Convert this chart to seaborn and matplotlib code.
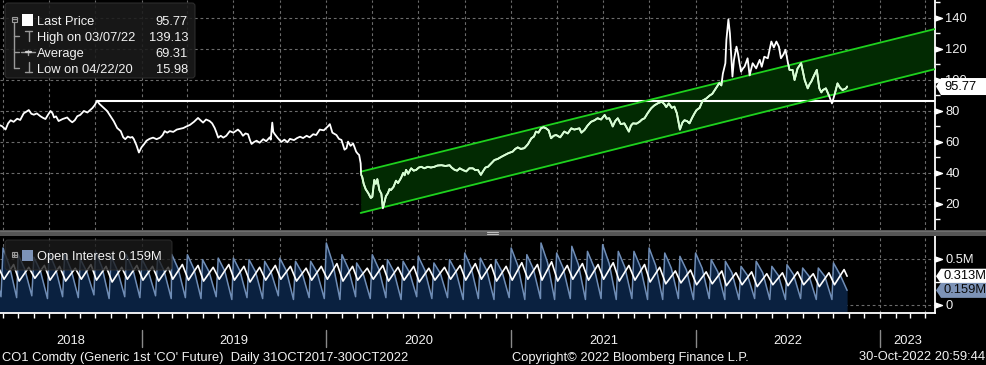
import numpy as np
import pandas as pd
import matplotlib
matplotlib.use("Agg")
import matplotlib.pyplot as plt
import matplotlib.dates as mdates
import seaborn as sns
from matplotlib.patches import Polygon, Rectangle, FancyBboxPatch
from matplotlib.lines import Line2D
from matplotlib.path import Path
from matplotlib.transforms import Affine2D, blended_transform_factory as blend

# ---------------- data ----------------
price_2018 = [
    ('2018-03-24', 71.0), ('2018-03-30', 70.2), ('2018-04-06', 68.0), ('2018-04-11', 72.0),
    ('2018-04-16', 74.0), ('2018-04-22', 73.0), ('2018-04-29', 75.0), ('2018-05-05', 74.2),
    ('2018-05-12', 78.5), ('2018-05-17', 79.5), ('2018-05-22', 80.6), ('2018-05-27', 78.2),
    ('2018-06-01', 77.6), ('2018-06-07', 78.4), ('2018-06-14', 76.6), ('2018-06-19', 75.6),
    ('2018-06-24', 74.8), ('2018-06-29', 77.5), ('2018-07-04', 80.0), ('2018-07-08', 78.5),
    ('2018-07-11', 75.8), ('2018-07-15', 76.5), ('2018-07-20', 73.5), ('2018-07-28', 74.8),
    ('2018-08-06', 75.8), ('2018-08-11', 74.0), ('2018-08-16', 72.7), ('2018-08-21', 74.0),
    ('2018-08-26', 76.6), ('2018-09-01', 77.5), ('2018-09-08', 80.0), ('2018-09-15', 79.0),
    ('2018-09-25', 81.9), ('2018-09-30', 84.0), ('2018-10-04', 86.6), ('2018-10-09', 84.5),
    ('2018-10-14', 83.0), ('2018-10-19', 81.5), ('2018-10-24', 80.0), ('2018-10-30', 77.0),
    ('2018-11-06', 73.5), ('2018-11-13', 69.0), ('2018-11-20', 67.0), ('2018-11-25', 63.0),
    ('2018-11-29', 61.8), ('2018-12-04', 63.5), ('2018-12-09', 62.8), ('2018-12-13', 63.2),
    ('2018-12-16', 61.8), ('2018-12-21', 58.0), ('2018-12-26', 53.2), ('2018-12-31', 56.5),
]
price_2019 = [
    ('2019-01-05', 58.5), ('2019-01-10', 60.8), ('2019-01-16', 62.0), ('2019-01-23', 62.8),
    ('2019-01-30', 61.8), ('2019-02-06', 62.8), ('2019-02-11', 64.5), ('2019-02-15', 67.0),
    ('2019-02-20', 66.0), ('2019-02-25', 67.0), ('2019-03-04', 66.5), ('2019-03-11', 68.0),
    ('2019-03-18', 68.5), ('2019-03-24', 69.0), ('2019-03-30', 70.0), ('2019-04-06', 71.0),
    ('2019-04-14', 73.0), ('2019-04-22', 75.5), ('2019-04-27', 74.0), ('2019-05-02', 72.5),
    ('2019-05-08', 74.5), ('2019-05-15', 73.5), ('2019-05-20', 72.0), ('2019-05-25', 69.0),
    ('2019-05-28', 66.5), ('2019-06-01', 62.8), ('2019-06-06', 64.0), ('2019-06-11', 62.8),
    ('2019-06-17', 64.0), ('2019-06-24', 67.0), ('2019-07-01', 66.0), ('2019-07-10', 68.0),
    ('2019-07-15', 66.5), ('2019-07-20', 64.0), ('2019-07-25', 65.5), ('2019-07-30', 65.0),
    ('2019-08-03', 61.0), ('2019-08-06', 58.7), ('2019-08-11', 60.0), ('2019-08-16', 60.8),
    ('2019-08-22', 59.5), ('2019-08-29', 61.8), ('2019-09-04', 60.5), ('2019-09-11', 63.0),
    ('2019-09-13', 61.5), ('2019-09-16', 72.5), ('2019-09-18', 66.5), ('2019-09-21', 65.0),
    ('2019-09-27', 62.5), ('2019-10-04', 60.0), ('2019-10-10', 61.5), ('2019-10-16', 59.8),
    ('2019-10-21', 62.0), ('2019-10-29', 61.2), ('2019-11-04', 62.5), ('2019-11-10', 63.4),
    ('2019-11-16', 62.5), ('2019-11-23', 64.0), ('2019-11-29', 63.0), ('2019-12-06', 65.0),
    ('2019-12-12', 64.5), ('2019-12-19', 68.0), ('2019-12-27', 67.5),
]
price_2020 = [
    ('2020-01-04', 70.0), ('2020-01-08', 71.5), ('2020-01-13', 66.0), ('2020-01-21', 64.5),
    ('2020-01-26', 62.0), ('2020-01-31', 61.3), ('2020-02-06', 55.0), ('2020-02-10', 56.0),
    ('2020-02-13', 60.2), ('2020-02-18', 57.5), ('2020-02-23', 59.0), ('2020-02-26', 56.5),
    ('2020-02-29', 53.8), ('2020-03-03', 52.5), ('2020-03-06', 51.6), ('2020-03-09', 46.2),
    ('2020-03-10', 38.7), ('2020-03-12', 37.5), ('2020-03-15', 33.0), ('2020-03-19', 29.5),
    ('2020-03-24', 27.0), ('2020-03-29', 23.9), ('2020-04-01', 24.5), ('2020-04-05', 35.5),
    ('2020-04-08', 33.0), ('2020-04-11', 36.0), ('2020-04-15', 29.0), ('2020-04-19', 26.5),
    ('2020-04-22', 17.2), ('2020-04-25', 21.0), ('2020-04-28', 25.0), ('2020-05-02', 27.0),
    ('2020-05-05', 29.6), ('2020-05-08', 29.0), ('2020-05-13', 31.0), ('2020-05-18', 35.0),
    ('2020-05-22', 33.5), ('2020-05-28', 36.8), ('2020-06-01', 40.0), ('2020-06-04', 38.5),
    ('2020-06-07', 42.0), ('2020-06-11', 39.5), ('2020-06-17', 43.0), ('2020-06-22', 41.5),
    ('2020-06-27', 42.0), ('2020-07-02', 43.5), ('2020-07-07', 44.0), ('2020-07-13', 43.0),
    ('2020-07-20', 44.0), ('2020-07-26', 43.5), ('2020-08-02', 44.0), ('2020-08-08', 44.8),
    ('2020-08-16', 45.0), ('2020-08-24', 44.5), ('2020-09-01', 45.0), ('2020-09-05', 43.5),
    ('2020-09-11', 42.0), ('2020-09-16', 41.5), ('2020-09-21', 43.0), ('2020-09-28', 41.8),
    ('2020-10-04', 41.0), ('2020-10-10', 43.0), ('2020-10-17', 43.0), ('2020-10-22', 41.8),
    ('2020-10-27', 42.0), ('2020-11-02', 38.8), ('2020-11-06', 41.0), ('2020-11-11', 43.5),
    ('2020-11-16', 44.0), ('2020-11-22', 46.0), ('2020-11-29', 48.4), ('2020-12-05', 49.0),
    ('2020-12-13', 50.5), ('2020-12-19', 51.5), ('2020-12-26', 52.7),
]
price_2021 = [
    ('2021-01-04', 53.8), ('2021-01-09', 55.5), ('2021-01-14', 56.5), ('2021-01-20', 55.5),
    ('2021-01-27', 56.0), ('2021-02-03', 58.5), ('2021-02-10', 62.4), ('2021-02-15', 63.5),
    ('2021-02-19', 66.7), ('2021-02-24', 66.0), ('2021-03-01', 68.8), ('2021-03-06', 69.5),
    ('2021-03-11', 68.8), ('2021-03-16', 67.5), ('2021-03-21', 62.4), ('2021-03-26', 64.0),
    ('2021-03-31', 64.5), ('2021-04-08', 63.0), ('2021-04-16', 66.7), ('2021-04-23', 65.5),
    ('2021-04-30', 68.8), ('2021-05-06', 68.0), ('2021-05-16', 68.8), ('2021-05-20', 66.0),
    ('2021-05-26', 67.7), ('2021-06-01', 70.5), ('2021-06-08', 73.0), ('2021-06-15', 74.0),
    ('2021-06-21', 75.3), ('2021-06-28', 74.5), ('2021-07-05', 77.4), ('2021-07-09', 75.0),
    ('2021-07-14', 75.3), ('2021-07-18', 72.5), ('2021-07-21', 70.0), ('2021-07-26', 73.5),
    ('2021-07-31', 75.3), ('2021-08-06', 71.5), ('2021-08-13', 72.0), ('2021-08-18', 69.0),
    ('2021-08-22', 66.7), ('2021-08-26', 70.5), ('2021-08-30', 72.0), ('2021-09-06', 71.8),
    ('2021-09-12', 73.0), ('2021-09-17', 74.5), ('2021-09-22', 75.3), ('2021-09-28', 78.5),
    ('2021-10-05', 81.7), ('2021-10-11', 83.5), ('2021-10-18', 84.9), ('2021-10-26', 86.0),
    ('2021-10-31', 84.5), ('2021-11-04', 82.5), ('2021-11-09', 84.9), ('2021-11-15', 82.0),
    ('2021-11-20', 82.8), ('2021-11-25', 78.5), ('2021-12-01', 68.0), ('2021-12-06', 72.5),
    ('2021-12-10', 74.0), ('2021-12-15', 73.5), ('2021-12-20', 72.0), ('2021-12-25', 75.5),
    ('2021-12-30', 78.5),
]
price_2022 = [
    ('2022-01-03', 80.6), ('2022-01-09', 82.0), ('2022-01-15', 86.7), ('2022-01-22', 88.0),
    ('2022-01-29', 90.0), ('2022-02-03', 91.0), ('2022-02-08', 93.5), ('2022-02-12', 95.5),
    ('2022-02-17', 98.0), ('2022-02-21', 96.5), ('2022-02-24', 104.0), ('2022-03-01', 110.8),
    ('2022-03-03', 125.8), ('2022-03-07', 139.13), ('2022-03-10', 130.0), ('2022-03-15', 102.2),
    ('2022-03-18', 113.0), ('2022-03-23', 121.5), ('2022-03-26', 117.0), ('2022-03-29', 110.8),
    ('2022-04-01', 105.4), ('2022-04-05', 107.5), ('2022-04-08', 108.6), ('2022-04-14', 114.0),
    ('2022-04-18', 103.0), ('2022-04-21', 107.0), ('2022-04-24', 110.8), ('2022-05-01', 107.5),
    ('2022-05-04', 110.0), ('2022-05-08', 113.0), ('2022-05-12', 108.5), ('2022-05-17', 115.0),
    ('2022-05-24', 114.0), ('2022-05-31', 124.8), ('2022-06-05', 121.0), ('2022-06-10', 124.8),
    ('2022-06-15', 121.5), ('2022-06-19', 114.0), ('2022-06-24', 116.5), ('2022-06-28', 119.5),
    ('2022-07-03', 110.8), ('2022-07-06', 106.5), ('2022-07-12', 106.5), ('2022-07-16', 100.0),
    ('2022-07-22', 107.5), ('2022-07-29', 110.8), ('2022-08-05', 100.0), ('2022-08-11', 94.6),
    ('2022-08-15', 97.5), ('2022-08-18', 98.9), ('2022-08-24', 103.2), ('2022-08-29', 106.5),
    ('2022-09-03', 94.6), ('2022-09-07', 92.0), ('2022-09-10', 93.5), ('2022-09-16', 94.6),
    ('2022-09-23', 89.2), ('2022-09-28', 84.9), ('2022-10-03', 90.3), ('2022-10-09', 97.8),
    ('2022-10-14', 95.0), ('2022-10-19', 93.5), ('2022-10-26', 94.6), ('2022-10-28', 95.77),
]

last_price = 95.77
high_date, high_price = '03/07/22', 139.13
avg_price = 69.31
low_date, low_price = '04/22/20', 15.98

channel_dates = ['2020-03-09', '2023-04-20']
channel_upper = [40.8, 132.9]
channel_lower = [14.2, 107.0]

oi_months = pd.date_range('2018-03-01', '2022-10-01', freq='MS')
oi_peak = [0.55, 0.62, 0.55, 0.52, 0.57, 0.55, 0.50, 0.58, 0.53, 0.55, 0.50, 0.52, 0.55,
           0.547, 0.493, 0.51, 0.51, 0.493, 0.475, 0.51, 0.475, 0.475,
           0.674, 0.547, 0.457, 0.547, 0.493, 0.475, 0.529, 0.457, 0.493,
           0.565, 0.51, 0.493, 0.62, 0.547, 0.674, 0.565, 0.638, 0.583,
           0.656, 0.583, 0.583, 0.62, 0.565, 0.529, 0.565, 0.493, 0.475,
           0.42, 0.475, 0.42, 0.438, 0.402, 0.402, 0.457]
oi_mid = [0.40, 0.42, 0.39, 0.37, 0.40, 0.38, 0.36, 0.41, 0.37, 0.39, 0.36, 0.37, 0.39,
          0.39, 0.36, 0.37, 0.37, 0.36, 0.35, 0.37, 0.35, 0.35,
          0.45, 0.39, 0.34, 0.39, 0.36, 0.35, 0.38, 0.34, 0.36,
          0.40, 0.37, 0.36, 0.43, 0.39, 0.46, 0.40, 0.44, 0.41,
          0.45, 0.41, 0.41, 0.43, 0.40, 0.38, 0.40, 0.36, 0.35,
          0.32, 0.35, 0.32, 0.33, 0.31, 0.31, 0.33]
oi_trough = [0.09, 0.08, 0.10, 0.07, 0.09, 0.08, 0.11, 0.07, 0.09, 0.08, 0.10, 0.07, 0.08,
             0.07, 0.09, 0.06, 0.08, 0.07, 0.10, 0.06, 0.08, 0.07,
             0.06, 0.09, 0.07, 0.08, 0.06, 0.09, 0.07, 0.08, 0.06,
             0.07, 0.06, 0.08, 0.06, 0.07, 0.06, 0.07, 0.06, 0.07,
             0.06, 0.07, 0.06, 0.06, 0.07, 0.06, 0.07, 0.06, 0.06,
             0.07, 0.06, 0.06, 0.07, 0.06, 0.06, 0.159]
oi2_low = [0.27, 0.28, 0.26, 0.29, 0.27, 0.26, 0.28, 0.27, 0.25, 0.28, 0.27, 0.26, 0.28,
           0.27, 0.26, 0.28, 0.27, 0.25, 0.27, 0.28, 0.26, 0.27,
           0.28, 0.26, 0.27, 0.28, 0.26, 0.27, 0.25, 0.27, 0.28,
           0.27, 0.28, 0.26, 0.27, 0.28, 0.27, 0.26, 0.28, 0.27,
           0.28, 0.26, 0.27, 0.25, 0.23, 0.24, 0.22, 0.23, 0.21,
           0.22, 0.20, 0.22, 0.21, 0.22, 0.20, 0.22]
oi2_high = [0.42, 0.44, 0.41, 0.43, 0.42, 0.40, 0.44, 0.42, 0.41, 0.43, 0.42, 0.41, 0.44,
            0.43, 0.41, 0.44, 0.42, 0.41, 0.43, 0.42, 0.40, 0.42,
            0.45, 0.42, 0.40, 0.43, 0.41, 0.42, 0.40, 0.41, 0.43,
            0.45, 0.44, 0.42, 0.46, 0.44, 0.47, 0.43, 0.45, 0.44,
            0.46, 0.43, 0.44, 0.41, 0.37, 0.38, 0.36, 0.37, 0.35,
            0.36, 0.34, 0.35, 0.36, 0.34, 0.35, 0.385]
oi_last_date = '2022-10-28'
oi2_last = 0.313

price_ticks = [20, 40, 60, 80, 100, 120, 140]
oi_ticks = [0.0, 0.5]
oi_tick_labels = ['0', '0.5M']
years = [2018, 2019, 2020, 2021, 2022, 2023]
view_start, view_end = '2018-03-26', '2023-04-20'

# ---------------- style ----------------
sns.set_theme(style='dark', rc={'axes.facecolor': 'black', 'figure.facecolor': 'black',
                                'savefig.facecolor': 'black'})
plt.rcParams['font.family'] = ['Liberation Sans', 'DejaVu Sans']
FS = 9.3
TXT = '#f2f2f2'
GRID = '#6c6c6c'

W, H = 987, 365
fig = plt.figure(figsize=(W / 100, H / 100), dpi=100)
fig.patch.set_facecolor('black')
pix = Affine2D().scale(1 / W, -1 / H).translate(0, 1) + fig.transFigure

ax = fig.add_axes([0, 1 - 230 / H, 935 / W, 230 / H])
ax2 = fig.add_axes([0, 1 - 313 / H, 935 / W, 77 / H])
for a in (ax, ax2):
    a.set_facecolor('black')
    for s in a.spines.values():
        s.set_visible(False)
    a.spines['right'].set_visible(True)
    a.spines['right'].set_color('white')
    a.spines['right'].set_linewidth(1.3)
ax2.spines['bottom'].set_visible(True)
ax2.spines['bottom'].set_color('white')
ax2.spines['bottom'].set_linewidth(1.3)

x0, x1 = mdates.date2num(pd.Timestamp(view_start)), mdates.date2num(pd.Timestamp(view_end))

# ---------------- top panel ----------------
rows_all = price_2018 + price_2019 + price_2020 + price_2021 + price_2022
pdf = pd.DataFrame(rows_all, columns=['date', 'price'])
pdf['date'] = pd.to_datetime(pdf['date'])

cd = mdates.date2num(pd.to_datetime(channel_dates))
ax.fill_between(cd, channel_lower, channel_upper, color='#022a02', zorder=1, lw=0)
ax.plot(cd, channel_upper, color='#1ed21e', lw=1.3, zorder=4)
ax.plot(cd, channel_lower, color='#1ed21e', lw=1.3, zorder=4)

# reference line from the 2018 high
pre = pdf[pdf['date'] < '2019-01-01']
ref_i = pre['price'].idxmax()
ax.hlines(pre.loc[ref_i, 'price'], mdates.date2num(pre.loc[ref_i, 'date']), x1,
          color='white', lw=1.5, zorder=3)

sns.lineplot(data=pdf, x='date', y='price', ax=ax, color='white', lw=1.3,
             estimator=None, zorder=5)
sns.lineplot(data=pdf, x='date', y='price', ax=ax, color='#d4ffd0', lw=1.3,
             estimator=None, zorder=6)
chan_poly = Polygon([(cd[0], channel_lower[0]), (cd[1], channel_lower[1]),
                     (cd[1], channel_upper[1]), (cd[0], channel_upper[0])],
                    closed=True, transform=ax.transData)
ax.lines[-1].set_clip_path(chan_poly)

ax.set_xlim(x0, x1)
ax.set_ylim(3.2, 151.6)
ax.set_xlabel('')
ax.set_ylabel('')
ax.set_xticks([])
ax.yaxis.tick_right()
ax.set_yticks(price_ticks)
ax.set_yticklabels([str(t) for t in price_ticks])
ax.set_yticks(np.arange(10, 151, 10), minor=True)
ax.tick_params(axis='y', which='major', length=0, pad=7.5, labelsize=FS, labelcolor=TXT, right=True, left=False)
ax.tick_params(axis='y', which='minor', length=3.5, width=1, color='white', right=True, left=False)
for t in price_ticks:
    ax.axhline(t, color=GRID, lw=0.8, ls=(0, (2.5, 2.5)), zorder=0)

quarters = pd.date_range('2018-04-01', '2023-04-01', freq='QS')
for q in quarters:
    for a in (ax, ax2):
        a.axvline(mdates.date2num(q), color=GRID, lw=0.8, ls=(0, (2.5, 2.5)), zorder=0)

tri = Path([(0, -0.35), (1, 0), (0, 0.35), (0, -0.35)],
           [Path.MOVETO, Path.LINETO, Path.LINETO, Path.CLOSEPOLY])
ax.plot([1.0] * len(price_ticks), price_ticks, transform=blend(ax.transAxes, ax.transData),
        ls='none', marker=tri, ms=10, color='white', clip_on=False, zorder=7)

# ---------------- bottom panel ----------------
oi_d, oi_v, oi2_d, oi2_v = [], [], [], []
for i, m in enumerate(oi_months):
    oi_d += [m, m + pd.Timedelta(days=13), m + pd.Timedelta(days=27)]
    oi_v += [oi_peak[i], oi_mid[i], oi_trough[i]]
    oi2_d += [m + pd.Timedelta(days=2), m + pd.Timedelta(days=21)]
    oi2_v += [oi2_low[i], oi2_high[i]]
oi2_d.append(pd.Timestamp(oi_last_date))
oi2_v.append(oi2_last)
oidf = pd.DataFrame({'date': oi_d, 'oi': oi_v})
oi2df = pd.DataFrame({'date': oi2_d, 'oi': oi2_v})

ylo2 = -0.087
ax2.fill_between(mdates.date2num(oidf['date']), oidf['oi'], ylo2, color='#0a2140', lw=0, zorder=1)
sns.lineplot(data=oidf, x='date', y='oi', ax=ax2, color='#6f8db6', lw=1.1, estimator=None, zorder=3)
sns.lineplot(data=oi2df, x='date', y='oi', ax=ax2, color='white', lw=1.2, estimator=None, zorder=4)

ax2.set_xlim(x0, x1)
ax2.set_ylim(ylo2, 0.75)
ax2.set_xlabel('')
ax2.set_ylabel('')
ax2.yaxis.tick_right()
ax2.set_yticks(oi_ticks)
ax2.set_yticklabels(oi_tick_labels)
ax2.set_yticks([0.25], minor=True)
ax2.tick_params(axis='y', which='major', length=0, pad=7.5, labelsize=FS, labelcolor=TXT, right=True, left=False)
ax2.tick_params(axis='y', which='minor', length=3.5, width=1, color='white', right=True, left=False)
for t in oi_ticks:
    ax2.axhline(t, color=GRID, lw=0.8, ls=(0, (2.5, 2.5)), zorder=0)
ax2.plot([1.0] * len(oi_ticks), oi_ticks, transform=blend(ax2.transAxes, ax2.transData),
         ls='none', marker=tri, ms=10, color='white', clip_on=False, zorder=7)

months = pd.date_range('2018-04-01', '2023-04-01', freq='MS')
ax2.set_xticks(mdates.date2num(months))
ax2.set_xticklabels([])
ax2.tick_params(axis='x', which='major', length=3.5, width=1, color='white', direction='out', bottom=True)
ax2.grid(False)
ax.grid(False)

ytr = blend(ax2.transData, pix)
for yr in years:
    ys = mdates.date2num(pd.Timestamp(f'{yr}-01-01'))
    ye = mdates.date2num(pd.Timestamp(f'{yr + 1}-01-01'))
    a_, b_ = max(ys, x0), min(ye, x1)
    fig.text((a_ + b_) / 2, 344, str(yr), transform=ytr, ha='center', va='baseline',
             fontsize=FS, color=TXT)
    if x0 < ys < x1:
        fig.add_artist(Line2D([ys, ys], [330, 347], transform=ytr, color='#8a8a8a', lw=1))

# ---------------- value tags ----------------
def tag(axis, value, text, fc, tc, h):
    yc = H - axis.transData.transform((0, value))[1]
    xs = 935
    poly = [(xs + 1, yc), (xs + 6, yc - h / 2), (W, yc - h / 2), (W, yc + h / 2), (xs + 6, yc + h / 2)]
    fig.add_artist(Polygon(poly, closed=True, transform=pix, fc=fc, ec='none', zorder=10))
    fig.text(xs + 9, yc, text, transform=pix, color=tc, va='center', ha='left',
             fontsize=FS, zorder=11)

tag(ax, last_price, f'{last_price:.2f}', 'white', 'black', 17)
tag(ax2, oi2_last, f'{oi2_last:.3f}M', 'white', 'black', 15)
tag(ax2, oi_trough[-1], f'{oi_trough[-1]:.3f}M', '#7d93b7', '#0a0a0a', 15)

# ---------------- separator ----------------
fig.add_artist(Rectangle((0, 230), W, 5.5, transform=pix, fc='#555555', ec='none', zorder=8))
fig.add_artist(Line2D([0, W], [230.5, 230.5], transform=pix, color='#6e6e6e', lw=0.8, zorder=9))
for yy in (232, 234):
    fig.add_artist(Line2D([487, 498], [yy, yy], transform=pix, color='#bdbdbd', lw=0.8, zorder=9))

# ---------------- legends ----------------
LG = '#9a9a9a'
fig.add_artist(FancyBboxPatch((5, 3), 190, 75, boxstyle='round,pad=0,rounding_size=3', transform=pix,
                              fc='#1b1b1b', ec='#303030', lw=0.8, alpha=0.88, zorder=12))
def L(xs, ys, c=LG, lw=1.0):
    fig.add_artist(Line2D(xs, ys, transform=pix, color=c, lw=lw, zorder=13))
fig.add_artist(Rectangle((11.5, 16.5), 5, 5, transform=pix, fc='none', ec=LG, lw=0.8, zorder=13))
L([12.5, 15.5], [19, 19])
L([14, 14], [21.5, 68])
for yy in (36, 52, 68):
    L([14, 19], [yy, yy])
fig.add_artist(Rectangle((22, 14), 11, 11.5, transform=pix, fc='white', ec='none', zorder=13))
L([25, 32], [31, 31]); L([28.5, 28.5], [31, 41])
L([21, 35], [52, 52]); L([28, 28], [49.5, 54.5]); L([25.5, 30.5], [52, 52], c='#cfcfcf', lw=1.6)
L([28.5, 28.5], [62, 72]); L([25, 32], [72, 72])
rows = [('Last Price', f'{last_price:.2f}', 25), (f'High on {high_date}', f'{high_price:.2f}', 41),
        ('Average', f'{avg_price:.2f}', 57), (f'Low on {low_date}', f'{low_price:.2f}', 72.7)]
for lab, val, yb in rows:
    fig.text(37, yb, lab, transform=pix, color=TXT, fontsize=FS, va='baseline', ha='left', zorder=14)
    fig.text(188, yb, val, transform=pix, color=TXT, fontsize=FS, va='baseline', ha='right', zorder=14)

fig.add_artist(FancyBboxPatch((5, 240), 167, 30, boxstyle='round,pad=0,rounding_size=3', transform=pix,
                              fc='#1b1b1b', ec='#303030', lw=0.8, alpha=0.78, zorder=12))
fig.add_artist(Rectangle((11.5, 252), 5, 5, transform=pix, fc='none', ec=LG, lw=0.8, zorder=13))
L([12.5, 15.5], [254.5, 254.5]); L([14, 14], [253, 256])
fig.add_artist(Rectangle((22, 249.5), 11, 11.5, transform=pix, fc='#7d93b7', ec='none', zorder=13))
fig.text(37, 260, f'Open Interest {oi_trough[-1]:.3f}M', transform=pix, color=TXT, fontsize=FS,
         va='baseline', ha='left', zorder=14)

# ---------------- footer ----------------
fig.text(2, 360.5, "CO1 Comdty (Generic 1st 'CO' Future)  Daily 31OCT2017-30OCT2022", transform=pix,
         color=TXT, fontsize=FS, va='baseline', ha='left')
fig.text(630, 360.5, 'Copyright\u00a9 2022 Bloomberg Finance L.P.', transform=pix,
         color=TXT, fontsize=FS, va='baseline', ha='center')
fig.text(985, 360.5, '30-Oct-2022 20:59:44', transform=pix,
         color=TXT, fontsize=FS, va='baseline', ha='right')

fig.savefig('out.png', dpi=100, facecolor='black')
